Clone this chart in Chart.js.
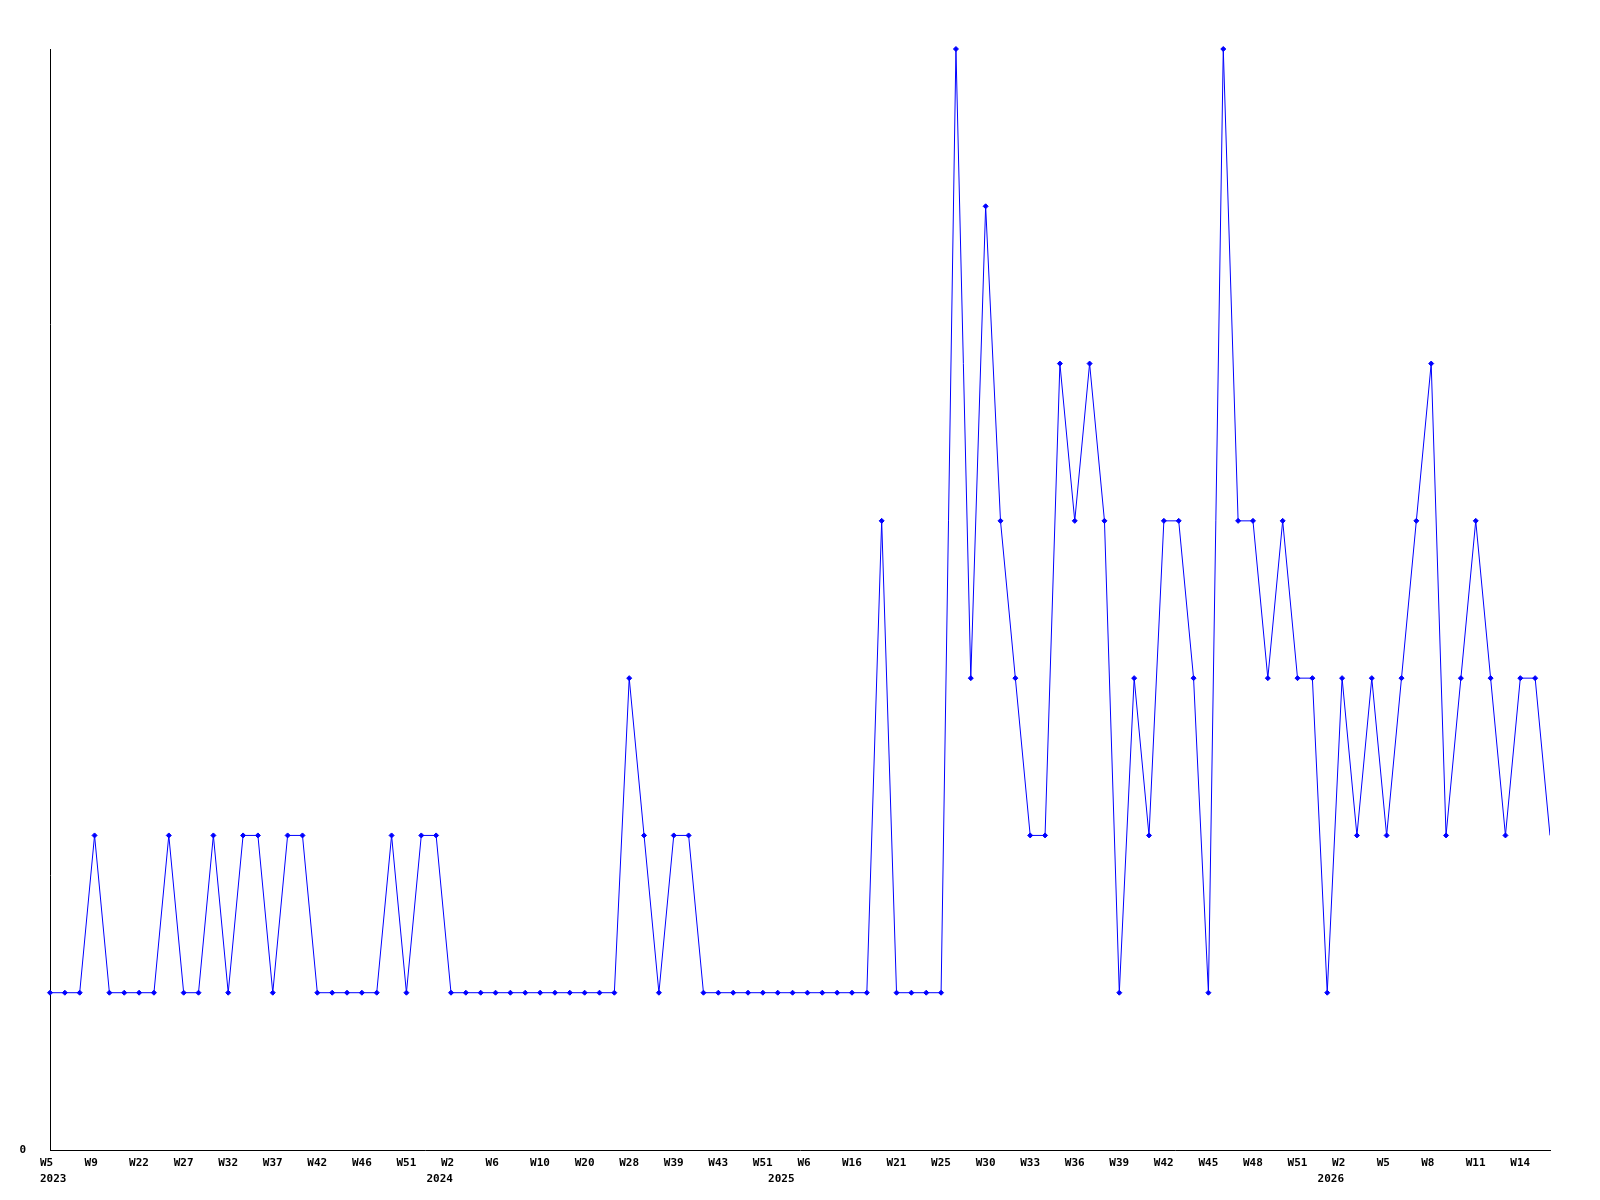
<!DOCTYPE html>
<html>
<head>
<meta charset="utf-8">
<script src="https://cdn.jsdelivr.net/npm/chart.js@4/dist/chart.umd.min.js"></script>
<style>
  html, body { margin: 0; padding: 0; background: #fff; }
  #c { display: block; }
</style>
</head>
<body>
<canvas id="c" width="1600" height="1200"></canvas>
<script>
// weekly values, one per data point
const values = [
  1,1,1,2,1,1,1,1,2,1,1,2,1,2,2,1,2,2,1,1,1,1,1,2,1,2,2,1,
  1,1,1,1,1,1,1,1,1,1,1,
  3,2,1,2,2,
  1,1,1,1,1,1,1,1,1,1,1,1,
  4,1,1,1,1,7,3,6,4,3,2,2,5,4,5,4,1,3,2,4,4,3,1,7,4,4,3,4,3,3,1,3,2,3,2,3,4,5,2,3,4,3,2,3,3,2
];
// week tick labels, shown on every third point
const tickLabels = [
  'W5','W9','W22','W27','W32','W37','W42','W46','W51',
  'W2','W6','W10','W20','W28','W39','W43','W51',
  'W6','W16','W21','W25','W30','W33','W36','W39','W42',
  'W45','W48','W51','W2','W5','W8','W11','W14'
];
const tickEvery = 3;
// year labels and the point index each one belongs to
const yearLabels = ['2023','2024','2025','2026'];
const yearIdx = [0, 27, 50, 87];

const FONT = { family: 'DejaVu Sans Mono', weight: 'bold', size: 11 };

const yearPlugin = {
  id: 'years',
  afterDraw(chart) {
    const ctx = chart.ctx;
    const xs = chart.scales.x;
    ctx.save();
    ctx.font = 'bold 11px "DejaVu Sans Mono"';
    ctx.fillStyle = '#000';
    ctx.textBaseline = 'top';
    yearLabels.forEach((t, k) => {
      const px = xs.getPixelForValue(yearIdx[k]);
      if (k === 0) { ctx.textAlign = 'left'; ctx.fillText(t, px - 10, xs.top + 24); }
      else { ctx.textAlign = 'right'; ctx.fillText(t, px + 2, xs.top + 24); }
    });
    ctx.restore();
  }
};

new Chart(document.getElementById('c'), {
  type: 'line',
  data: {
    datasets: [{
      data: values.map((v, i) => ({ x: i, y: v })),
      borderColor: '#0000ff',
      backgroundColor: '#0000ff',
      borderWidth: 1,
      tension: 0,
      pointStyle: 'rectRot',
      pointRadius: ctx => ctx.dataIndex === values.length - 1 ? 0 : 2.5,
      pointBorderWidth: 1,
      pointBorderColor: '#0000ff',
      pointBackgroundColor: '#0000ff',
      clip: { left: 5, top: 5, right: 0, bottom: 5 }
    }]
  },
  options: {
    responsive: false,
    animation: false,
    events: [],
    layout: { padding: { top: 49, right: 50, left: 0, bottom: 0 } },
    plugins: { legend: { display: false }, tooltip: { enabled: false }, title: { display: false } },
    scales: {
      x: {
        type: 'linear',
        min: 0,
        max: values.length - 1,
        grid: { display: false, drawTicks: false },
        border: { display: true, color: '#000', width: 1 },
        afterFit: s => { s.height = 50; },
        ticks: {
          stepSize: tickEvery,
          includeBounds: false,
          autoSkip: false,
          maxRotation: 0,
          minRotation: 0,
          align: 'start',
          labelOffset: -10,
          padding: 7,
          color: '#000',
          font: FONT,
          callback: v => (v % tickEvery === 0 && tickLabels[v / tickEvery] !== undefined) ? tickLabels[v / tickEvery] : null
        }
      },
      y: {
        min: 0,
        max: 7,
        grid: { display: false, drawTicks: false },
        border: { display: true, color: '#000', width: 1 },
        afterFit: s => { s.width = 50; },
        ticks: {
          stepSize: 1,
          padding: 24,
          color: '#000',
          font: FONT,
          callback: v => v === 0 ? '0' : null
        }
      }
    }
  },
  plugins: [yearPlugin]
});
</script>
</body>
</html>
